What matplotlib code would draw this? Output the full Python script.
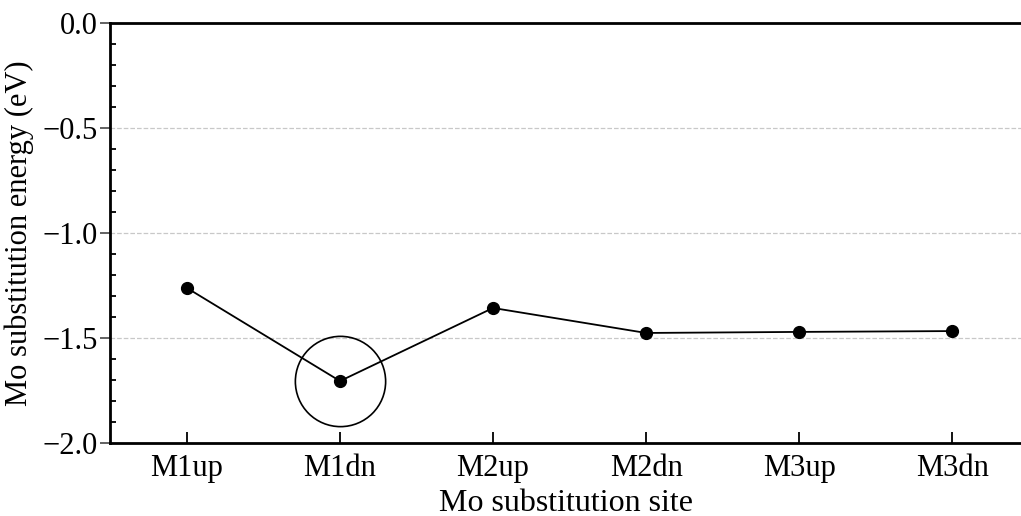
import matplotlib.pyplot as plt
from matplotlib.ticker import MultipleLocator

plt.rcParams['font.family'] = ['Liberation Serif', 'DejaVu Serif']

# Data
sites = ['M1up', 'M1dn', 'M2up', 'M2dn', 'M3up', 'M3dn']
energy = [-1.262, -1.705, -1.357, -1.476, -1.471, -1.467]
highlight = 'M1dn'

fig = plt.figure(figsize=(10.21, 5.16), dpi=100)
ax = fig.add_axes([110 / 1021, 73 / 516, 911 / 1021, 420 / 516])

x = list(range(len(sites)))
ax.plot(x, energy, color='black', lw=1.3, marker='o', ms=8.5, zorder=3)

# open circle around the highlighted site
hi = sites.index(highlight)
ax.plot([hi], [energy[hi]], marker='o', ms=65, mfc='none', mec='black',
        mew=1.2, zorder=4, clip_on=False)

ax.set_xlim(-0.503, 5.45)
ax.set_ylim(-2.0, 0.0)
ax.set_xticks(x)
ax.set_xticklabels(sites)
ax.yaxis.set_major_locator(MultipleLocator(0.5))
ax.yaxis.set_minor_locator(MultipleLocator(0.1))
ax.set_yticklabels([f'{v:.1f}'.replace('-', '\u2212') for v in ax.get_yticks()])

ax.grid(axis='y', which='major', color='#c8c8c8', ls='--', lw=0.9)
ax.set_axisbelow(True)

for s in ['left', 'bottom', 'top']:
    ax.spines[s].set_linewidth(2)
ax.spines['right'].set_visible(False)

ax.tick_params(axis='y', which='major', direction='out', length=7,
               width=1.3, color='#555555', labelsize=22, pad=2)
ax.tick_params(axis='y', which='minor', direction='in', length=4, width=1.3)
ax.tick_params(axis='x', which='major', direction='in', length=8, width=1.3,
               labelsize=22, pad=8)

ax.set_xlabel('Mo substitution site', fontsize=23, labelpad=4)
ax.set_ylabel('Mo substitution energy (eV)', fontsize=22, labelpad=6)

fig.savefig('out.png', dpi=100)
